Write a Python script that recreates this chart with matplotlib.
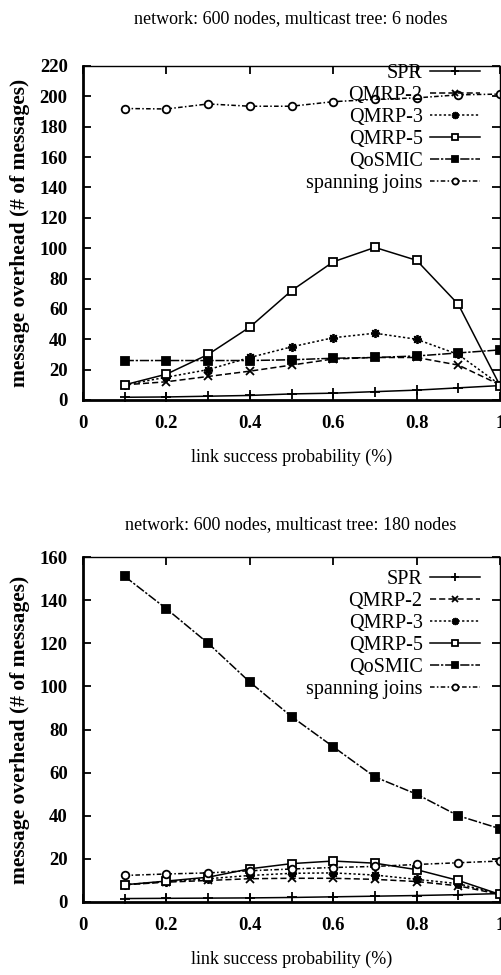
import matplotlib
matplotlib.use("Agg")
import numpy as np
from matplotlib import pyplot as plt

plt.rcParams['font.family'] = ['Liberation Serif', 'DejaVu Serif']

x_prob = [0.1, 0.2, 0.3, 0.4, 0.5, 0.6, 0.7, 0.8, 0.9, 1.0]
series_names = ['SPR', 'QMRP-2', 'QMRP-3', 'QMRP-5', 'QoSMIC', 'spanning joins']

# tree with 6 nodes
small_spr = [1.8, 2.0, 2.5, 3.0, 4.0, 4.5, 5.5, 6.5, 8.0, 9.5]
small_qmrp2 = [10, 12, 15.5, 19, 23, 27, 28, 28, 23, 10]
small_qmrp3 = [10, 15, 20, 28, 35, 41, 44, 40, 30, 10]
small_qmrp5 = [10, 17, 30, 48, 72, 91, 100.5, 92, 63, 9.5]
small_qosmic = [26, 26, 26, 26, 26.5, 27.5, 28, 29, 31, 33]
small_spanning = [192, 191.7, 195, 193.5, 193.5, 196.5, 198, 199, 201, 201.5]

# tree with 180 nodes
big_spr = [1.6, 1.7, 1.8, 1.9, 2.1, 2.4, 2.7, 3.0, 3.4, 3.9]
big_qmrp2 = [8, 9.2, 10, 10.8, 11, 11, 10.5, 9.5, 7.5, 3.5]
big_qmrp3 = [8, 9.5, 10.8, 12.3, 13.3, 13.5, 12.5, 10.5, 8.5, 3.5]
big_qmrp5 = [8, 9.7, 11.5, 15.4, 17.8, 19, 18, 15, 10, 3.5]
big_qosmic = [151, 136, 120, 102, 86, 72, 58, 50, 40, 34]
big_spanning = [12.3, 13, 13.5, 14.5, 15.3, 16, 16.5, 17.4, 18.2, 19]

titles = ['network: 600 nodes, multicast tree: 6 nodes',
          'network: 600 nodes, multicast tree: 180 nodes']
x_ticks = [0, 0.2, 0.4, 0.6, 0.8, 1.0]
x_tick_labels = ['0', '0.2', '0.4', '0.6', '0.8', '1']

styles = [
    dict(ls='-', marker='+', ms=6.5, mfc='black'),
    dict(ls=(0, (4, 2)), marker='x', ms=5.5, mfc='black'),
    dict(ls=(0, (1.5, 1.5)), marker=(8, 2, 0), ms=6.5, mfc='black'),
    dict(ls='-', marker='s', ms=5.5, mfc='white'),
    dict(ls=(0, (6, 1.2, 1.5, 1.2)), marker='s', ms=5.5, mfc='black'),
    dict(ls=(0, (3, 1.5, 1, 1.5)), marker='o', ms=5.5, mfc='white'),
]


def draw(ax, data, ymax, ystep, title, legend_anchor, title_y, fig):
    for name, values, st in zip(series_names, data, styles):
        ax.plot(x_prob, values, color='black', lw=1.1, mec='black', mew=1.3,
                label=name, clip_on=False, **st)
    ax.set_xlim(0, 1)
    ax.set_ylim(0, ymax)
    ax.set_xticks(x_ticks)
    ax.set_xticklabels(x_tick_labels)
    ax.set_yticks(np.arange(0, ymax + 1, ystep))
    ax.tick_params(direction='in', top=True, right=True, length=6, width=1.3,
                   pad=11, labelsize=13.5)
    for lab in ax.get_xticklabels() + ax.get_yticklabels():
        lab.set_fontweight('bold')
    for side in ['left', 'bottom']:
        ax.spines[side].set_linewidth(2.0)
    for side in ['top', 'right']:
        ax.spines[side].set_linewidth(1.0)
    ax.set_xlabel('link success probability (%)', fontsize=13, labelpad=12)
    ax.set_ylabel('message overhead (# of messages)', fontsize=15.5,
                  fontweight='bold')
    ax.yaxis.set_label_coords(-0.127, 0.5)
    fig.text(291 / 501, title_y, title, ha='center', va='center', fontsize=13)
    ax.legend(loc='upper right', bbox_to_anchor=legend_anchor, frameon=False,
              markerfirst=False, numpoints=1, fontsize=14.5, borderpad=0,
              borderaxespad=0, labelspacing=0.14, handlelength=2.5,
              handletextpad=0.35, markerscale=0.8)


fig = plt.figure(figsize=(5.01, 9.75), dpi=100)
ax1 = fig.add_axes([83 / 501, 1 - 400 / 975, 417 / 501, 334 / 975])
ax2 = fig.add_axes([83 / 501, 1 - 902 / 975, 417 / 501, 345 / 975])

draw(ax1, [small_spr, small_qmrp2, small_qmrp3, small_qmrp5, small_qosmic, small_spanning],
     220, 20, titles[0], (0.952, 1.005), 1 - 19 / 975, fig)
draw(ax2, [big_spr, big_qmrp2, big_qmrp3, big_qmrp5, big_qosmic, big_spanning],
     160, 20, titles[1], (0.952, 0.962), 1 - 525 / 975, fig)

fig.savefig('out.png', dpi=100)
